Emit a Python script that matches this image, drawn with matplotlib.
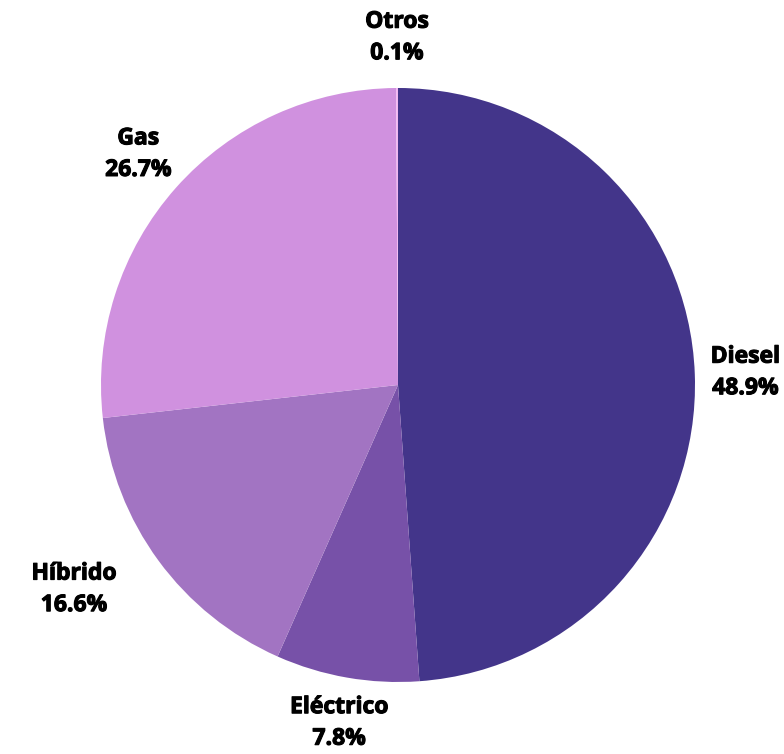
import matplotlib.pyplot as plt
import matplotlib.patheffects as pe
import numpy as np

categorias = ["Diesel", "Eléctrico", "Híbrido", "Gas", "Otros"]
porcentajes = [48.9, 7.8, 16.6, 26.7, 0.1]
colores = ["#43358a", "#7751a8", "#a274c2", "#d091df", "#f2b6f2"]
# separacion de etiquetas (radio) y ajuste de angulo en grados
dist_etiqueta = [1.17, 1.155, 1.29, 1.17, 1.17]
ajuste_ang = [0, 0, -4, 0, 0]

fig = plt.figure(figsize=(7.84, 7.54), dpi=100)
ax = fig.add_axes([0.1288, 0.0955, 0.7577, 0.7878])

wedges, _ = ax.pie(porcentajes, colors=colores, startangle=90, counterclock=False,
                   radius=1, wedgeprops=dict(linewidth=0))

for w, cat, pct, d, da in zip(wedges, categorias, porcentajes, dist_etiqueta, ajuste_ang):
    ang = np.deg2rad((w.theta1 + w.theta2) / 2 + da)
    ax.text(d * np.cos(ang), d * np.sin(ang), f"{cat}\n{pct}%",
            ha="center", va="center", fontsize=16.5, fontweight="bold",
            family=["Open Sans", "DejaVu Sans"], linespacing=1.42,
            path_effects=[pe.withStroke(linewidth=0.8, foreground="black")])

ax.set_xlim(-1, 1)
ax.set_ylim(-1, 1)
ax.set_aspect("equal")
ax.axis("off")

fig.savefig("out.png", dpi=100)
